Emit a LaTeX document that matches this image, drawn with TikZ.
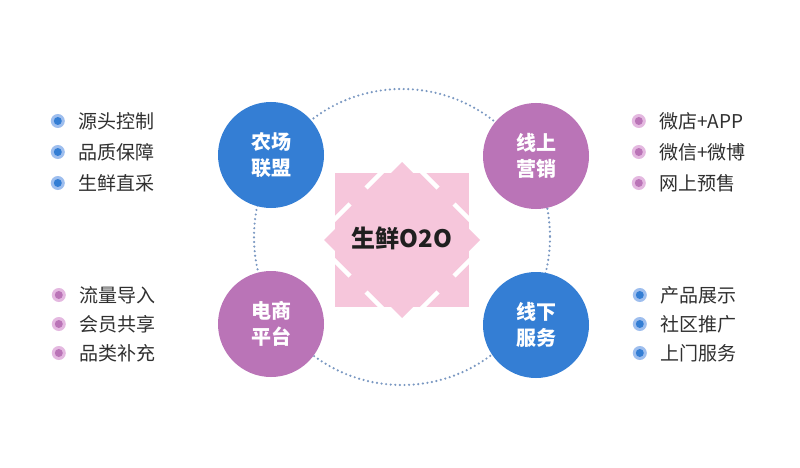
\documentclass[tikz,border=0pt]{standalone}
\usepackage{fontspec}
\setmainfont{Noto Sans CJK SC}
\usepackage{tikz}
\usetikzlibrary{calc}

\definecolor{hubblue}{RGB}{52,126,212}
\definecolor{hubpurple}{RGB}{186,116,183}
\definecolor{haloblue}{RGB}{158,190,238}
\definecolor{halopurple}{RGB}{228,184,224}
\definecolor{starpink}{RGB}{246,198,219}
\definecolor{ringgray}{RGB}{122,152,194}
\definecolor{textgray}{RGB}{48,48,48}

\tikzset{
  hub/.style={circle, minimum size=106pt, inner sep=0pt, text=white, align=center,
              font=\bfseries\fontsize{20}{26}\selectfont},
  bulletblue/.style={circle, minimum size=14pt, inner sep=0pt, fill=haloblue,
                     path picture={\fill[hubblue] (path picture bounding box.center) circle (4pt);}},
  bulletpurple/.style={circle, minimum size=14pt, inner sep=0pt, fill=halopurple,
                       path picture={\fill[hubpurple] (path picture bounding box.center) circle (4pt);}},
  blueitem/.style={anchor=west, inner sep=0pt, text=textgray, font=\fontsize{19}{22}\selectfont,
                   label={[bulletblue, label distance=13pt]left:{}}},
  purpleitem/.style={anchor=west, inner sep=0pt, text=textgray, font=\fontsize{19}{22}\selectfont,
                     label={[bulletpurple, label distance=13pt]left:{}}},
}

\begin{document}
\begin{tikzpicture}[x=1pt, y=-1pt]
  % ============================================================
  % 画布: 800 x 468, 1pt = 1px, y 向下
  % ============================================================
  \def\Cx{402}   % 中心 x
  \def\Cy{240}   % 中心 y
  \def\Hs{67}    % 方块半边长
  \def\Dg{78}    % 菱形半对角线
  \fill[white] (0,0) rectangle (800,468);
  \useasboundingbox (0,0) rectangle (800,468);

  % 1. Dotted ring
  \draw[ringgray, line width=2.4pt, line cap=round, dash pattern=on 0pt off 4.6pt]
    (\Cx,237) circle (148);

  % 2. Center star (square + diamond, corners cut into arrow heads)
  \fill[starpink] (\Cx-\Hs,\Cy-\Hs) rectangle (\Cx+\Hs,\Cy+\Hs);
  \fill[starpink] (\Cx-\Dg,\Cy) -- (\Cx,\Cy-\Dg) -- (\Cx+\Dg,\Cy) -- (\Cx,\Cy+\Dg) -- cycle;
  % 白色切口 (每角两段, 中间留出箭杆)
  \draw[white, line width=4.5pt] (\Cx-70,\Cy-18) -- (\Cx-52,\Cy-36) (\Cx-36,\Cy-52) -- (\Cx-18,\Cy-70);
  \draw[white, line width=4.5pt] (\Cx+70,\Cy-18) -- (\Cx+52,\Cy-36) (\Cx+36,\Cy-52) -- (\Cx+18,\Cy-70);
  \draw[white, line width=4.5pt] (\Cx-70,\Cy+18) -- (\Cx-52,\Cy+36) (\Cx-36,\Cy+52) -- (\Cx-18,\Cy+70);
  \draw[white, line width=4.5pt] (\Cx+70,\Cy+18) -- (\Cx+52,\Cy+36) (\Cx+36,\Cy+52) -- (\Cx+18,\Cy+70);
  \node[font=\bfseries\fontsize{24}{28}\selectfont, text=black!88] (o2o) at (\Cx,238) {生鲜O2O};

  % 3. Four hubs on the ring
  \node[hub, fill=hubblue]   (farm)    at (271,155) {农场\\联盟};
  \node[hub, fill=hubpurple] (online)  at (536,156) {线上\\营销};
  \node[hub, fill=hubpurple] (shop)    at (271,324) {电商\\平台};
  \node[hub, fill=hubblue]   (offline) at (536,325) {线下\\服务};

  % 4. Bullet lists
  % 左上 (农场联盟)
  \node[blueitem] (src)   at (78,121) {源头控制};
  \node[blueitem] (qual)  at (78,152) {品质保障};
  \node[blueitem] (buy)   at (78,183) {生鲜直采};
  % 右上 (线上营销)
  \node[purpleitem] (wshop) at (659,121) {微店+APP};
  \node[purpleitem] (wchat) at (659,152) {微信+微博};
  \node[purpleitem] (pre)   at (659,183) {网上预售};
  % 左下 (电商平台)
  \node[purpleitem] (flow)  at (79,295) {流量导入};
  \node[purpleitem] (vip)   at (79,324) {会员共享};
  \node[purpleitem] (cat)   at (79,353) {品类补充};
  % 右下 (线下服务)
  \node[blueitem] (show)  at (660,295) {产品展示};
  \node[blueitem] (comm)  at (660,324) {社区推广};
  \node[blueitem] (door)  at (660,353) {上门服务};
\end{tikzpicture}
\end{document}
